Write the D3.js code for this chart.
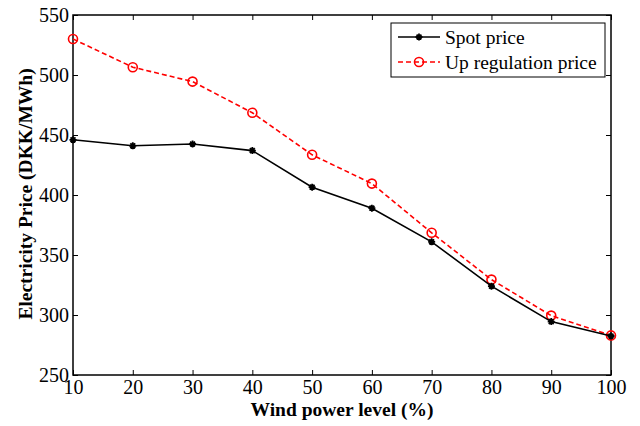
<!DOCTYPE html>
<html>
<head>
<meta charset="utf-8">
<script src="https://cdn.jsdelivr.net/npm/d3@7"></script>
<style>
  html, body { margin: 0; padding: 0; background: #fff; }
  svg { display: block; }
  text { font-family: "Liberation Serif", "Times New Roman", serif; fill: #000; }
</style>
</head>
<body>
<svg id="chart" width="640" height="426"></svg>
<script>
// Wind power penetration levels (%)
const windLevels = [10, 20, 30, 40, 50, 60, 70, 80, 90, 100];
// Average spot price (DKK/MWh)
const spotPrice = [446, 441, 442.5, 437, 406.5, 389, 361, 324, 294.5, 282.5];
// Average up-regulation price (DKK/MWh)
const upRegPrice = [530, 506.5, 494.5, 468.5, 433.5, 409.5, 368.5, 329.5, 299.5, 283];
// Axis ticks
const xTicks = [10, 20, 30, 40, 50, 60, 70, 80, 90, 100];
const yTicks = [250, 300, 350, 400, 450, 500, 550];
const seriesNames = ["Spot price", "Up regulation price"];

const svg = d3.select("#chart");
const W = 640, H = 426;
const m = { left: 73, top: 15, right: 640 - 611, bottom: 426 - 375 };
const iw = W - m.left - m.right, ih = H - m.top - m.bottom;

svg.append("rect").attr("width", W).attr("height", H).attr("fill", "#fff");

const x = d3.scaleLinear().domain([10, 100]).range([m.left, m.left + iw]);
const y = d3.scaleLinear().domain([250, 550]).range([m.top + ih, m.top]);

const tickLen = 5;
const fontSize = 20;

// Bottom axis with labels
const gx = svg.append("g").attr("transform", `translate(0,${m.top + ih})`)
  .call(d3.axisBottom(x).tickValues(xTicks).tickSizeInner(-tickLen).tickSizeOuter(0).tickPadding(5));
// Top axis (ticks only)
const gxt = svg.append("g").attr("transform", `translate(0,${m.top})`)
  .call(d3.axisTop(x).tickValues(xTicks).tickSizeInner(-tickLen).tickSizeOuter(0).tickFormat(""));
// Left axis with labels
const gy = svg.append("g").attr("transform", `translate(${m.left},0)`)
  .call(d3.axisLeft(y).tickValues(yTicks).tickSizeInner(-tickLen).tickSizeOuter(0).tickPadding(4));
// Right axis (ticks only)
const gyr = svg.append("g").attr("transform", `translate(${m.left + iw},0)`)
  .call(d3.axisRight(y).tickValues(yTicks).tickSizeInner(-tickLen).tickSizeOuter(0).tickFormat(""));

[gx, gxt, gy, gyr].forEach(g => {
  g.select(".domain").remove();
  g.selectAll(".tick line").attr("stroke", "#000").attr("stroke-width", 1);
  g.selectAll(".tick text")
    .style("font-family", '"Liberation Serif", "Times New Roman", serif')
    .style("font-size", fontSize + "px").attr("fill", "#000");
});
gx.selectAll(".tick text").attr("dy", "0.7em");
gy.selectAll(".tick text").attr("dy", "0.34em");

// Axes box
svg.append("rect")
  .attr("x", m.left).attr("y", m.top).attr("width", iw).attr("height", ih)
  .attr("fill", "none").attr("stroke", "#000").attr("stroke-width", 1.5);

// Axis titles
svg.append("text")
  .attr("x", m.left + iw / 2).attr("y", 416)
  .attr("text-anchor", "middle")
  .style("font-size", "19.5px").style("font-weight", "bold")
  .text("Wind power level (%)");

svg.append("text")
  .attr("transform", `translate(32,${m.top + ih / 2 - 1}) rotate(-90)`)
  .attr("text-anchor", "middle")
  .style("font-size", "19.5px").style("font-weight", "bold")
  .text("Electricity Price (DKK/MWh)");

// Marker shapes
function starMarker(g, cx, cy, r) {
  const p = `M${cx - r},${cy}L${cx + r},${cy}M${cx},${cy - r}L${cx},${cy + r}` +
    `M${cx - r * 0.7},${cy - r * 0.7}L${cx + r * 0.7},${cy + r * 0.7}` +
    `M${cx - r * 0.7},${cy + r * 0.7}L${cx + r * 0.7},${cy - r * 0.7}`;
  g.append("path").attr("d", p).attr("stroke", "#000").attr("stroke-width", 1.8).attr("fill", "none");
}
function circleMarker(g, cx, cy, r) {
  g.append("circle").attr("cx", cx).attr("cy", cy).attr("r", r)
    .attr("fill", "none").attr("stroke", "#ff0000").attr("stroke-width", 1.6);
}

const line = d3.line().x(d => x(d[0])).y(d => y(d[1]));
const spotData = windLevels.map((w, i) => [w, spotPrice[i]]);
const upData = windLevels.map((w, i) => [w, upRegPrice[i]]);

// Up regulation price: red dashed with open circles
svg.append("path").datum(upData).attr("d", line)
  .attr("fill", "none").attr("stroke", "#ff0000").attr("stroke-width", 1.6)
  .attr("stroke-dasharray", "5,3");
const gUp = svg.append("g");
upData.forEach(d => circleMarker(gUp, x(d[0]), y(d[1]), 4.5));

// Spot price: black solid with star markers
svg.append("path").datum(spotData).attr("d", line)
  .attr("fill", "none").attr("stroke", "#000").attr("stroke-width", 1.6);
const gSpot = svg.append("g");
spotData.forEach(d => starMarker(gSpot, x(d[0]), y(d[1]), 3.5));

// Legend
const lg = svg.append("g");
lg.append("rect").attr("x", 391).attr("y", 23).attr("width", 214).attr("height", 54)
  .attr("fill", "#fff").attr("stroke", "#000").attr("stroke-width", 1);
const rows = [37, 62];
lg.append("line").attr("x1", 398).attr("x2", 440).attr("y1", rows[0]).attr("y2", rows[0])
  .attr("stroke", "#000").attr("stroke-width", 1.6);
starMarker(lg, 419, rows[0], 3.5);
lg.append("line").attr("x1", 398).attr("x2", 440).attr("y1", rows[1]).attr("y2", rows[1])
  .attr("stroke", "#ff0000").attr("stroke-width", 1.6).attr("stroke-dasharray", "5,3");
circleMarker(lg, 419, rows[1], 4.5);
seriesNames.forEach((s, i) => {
  lg.append("text").attr("x", 445).attr("y", rows[i]).attr("dy", "0.34em")
    .style("font-size", "19.5px").text(s);
});
</script>
</body>
</html>
